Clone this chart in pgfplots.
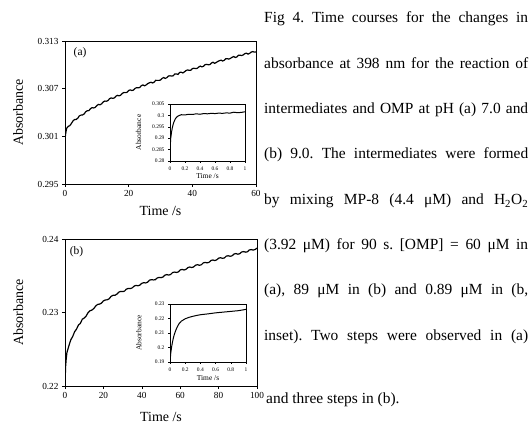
\documentclass[border=0pt]{standalone}
\usepackage{fontspec}
\setmainfont{Liberation Serif}
\usepackage{pgfplots}
\pgfplotsset{compat=1.18}
\frenchspacing

\pgfplotsset{
  kin/.style={
    scale only axis, anchor=south west,
    axis line style={black, line width=0.7pt},
    tick align=outside, xtick pos=left, ytick pos=left,
    major tick length=3bp, tick style={black, line width=0.6pt},
    scaled ticks=false,
    /pgf/number format/assume math mode=true,
    tick label style={font=\fontsize{9.3}{10}\selectfont},
    label style={font=\fontsize{14}{16}\selectfont},
  },
  inset/.style={
    kin, major tick length=2bp,
    axis line style={black, line width=0.6pt},
    tick style={black, line width=0.4pt},
    tick label style={font=\fontsize{5.5}{6}\selectfont},
    label style={font=\fontsize{7.5}{8}\selectfont},
    xmin=0, xmax=1, xtick={0,0.2,...,1},
    xlabel={Time /s}, ylabel={Absorbance},
    xlabel style={at={(axis description cs:0.5,-0.27)}, anchor=center},
    ylabel style={at={(axis description cs:-0.42,0.5)}, anchor=center},
    axis background/.style={fill=white},
  },
}

\newcommand{\capline}[2]{\node[anchor=base west, inner sep=0pt,
  font=\fontsize{15.5}{18}\selectfont] at (264bp,#1) {\makebox[264bp][s]{#2}};}

\begin{document}
\begin{tikzpicture}
\path[use as bounding box] (0,0) rectangle (532bp,427bp);

% (a) pH 7.0
\begin{axis}[kin, at={(65bp,243bp)}, width=191bp, height=143bp,
  xmin=0, xmax=60, xtick={0,20,40,60},
  ymin=0.295, ymax=0.313, ytick={0.295,0.301,0.307,0.313},
  yticklabel style={/pgf/number format/.cd, fixed, fixed zerofill, precision=3},
  xlabel={Time /s}, ylabel={Absorbance},
  xlabel style={at={(axis description cs:0.5,-0.19)}, anchor=center},
  ylabel style={at={(axis description cs:-0.245,0.5)}, anchor=center}]
\addplot[black, line width=1.2pt, mark=none] coordinates {
(0,0.2950) (0.05,0.3008) (0.2,0.3013) (0.5,0.30200)
(1,0.30225) (1.5,0.30234) (2,0.30261) (2.5,0.30294) (3,0.30311) (3.5,0.30312)
(4,0.30328) (4.5,0.30357) (5,0.30367) (5.5,0.30369) (6,0.30381) (6.5,0.30409)
(7,0.30422) (7.5,0.30424) (8,0.30448) (8.5,0.30461) (9,0.30457) (9.5,0.30464)
(10,0.30487) (10.5,0.30502) (11,0.30497) (11.5,0.30509) (12,0.30533) (12.5,0.30544)
(13,0.30542) (13.5,0.30550) (14,0.30574) (14.5,0.30583) (15,0.30578) (15.5,0.30584)
(16,0.30605) (16.5,0.30616) (17,0.30610) (17.5,0.30618) (18,0.30641) (18.5,0.30651)
(19,0.30650) (19.5,0.30654) (20,0.30677) (20.5,0.30684) (21,0.30677) (21.5,0.30682)
(22,0.30703) (22.5,0.30713) (23,0.30710) (23.5,0.30716) (24,0.30738) (24.5,0.30747)
(25,0.30736) (25.5,0.30747) (26,0.30764) (26.5,0.30774) (27,0.30781) (27.5,0.30772)
(28,0.30782) (28.5,0.30805) (29,0.30804) (29.5,0.30804) (30,0.30808) (30.5,0.30829)
(31,0.30840) (31.5,0.30829) (32,0.30839) (32.5,0.30859) (33,0.30862) (33.5,0.30858)
(34,0.30863) (34.5,0.30885) (35,0.30886) (35.5,0.30879) (36,0.30904) (36.5,0.30908)
(37,0.30898) (37.5,0.30911) (38,0.30927) (38.5,0.30936) (39,0.30930) (39.5,0.30932)
(40,0.30952) (40.5,0.30957) (41,0.30953) (41.5,0.30955) (42,0.30972) (42.5,0.30984)
(43,0.30974) (43.5,0.30982) (44,0.31002) (44.5,0.31006) (45,0.31001) (45.5,0.31003)
(46,0.31023) (46.5,0.31033) (47,0.31019) (47.5,0.31029) (48,0.31043) (48.5,0.31052)
(49,0.31059) (49.5,0.31048) (50,0.31056) (50.5,0.31076) (51,0.31078) (51.5,0.31072)
(52,0.31082) (52.5,0.31095) (53,0.31105) (53.5,0.31093) (54,0.31099) (54.5,0.31121)
(55,0.31121) (55.5,0.31117) (56,0.31125) (56.5,0.31141) (57,0.31147) (57.5,0.31135)
(58,0.31144) (58.5,0.31161) (59,0.31167) (59.5,0.31160) (60,0.31161)
};
\node[font=\fontsize{11.5}{12}\selectfont] at (axis description cs:0.079,0.916) {(a)};
\end{axis}

\begin{axis}[inset, at={(170bp,266bp)}, width=75bp, height=57bp,
  ymin=0.28, ymax=0.305, ytick={0.28,0.285,...,0.306},
  yticklabel style={/pgf/number format/precision=3}]
\addplot[black, line width=1pt, mark=none] coordinates {
(0,0.2800) (0.004,0.2870) (0.01,0.2900) (0.02,0.2926) (0.03,0.2944) (0.04,0.2958)
(0.05,0.2969) (0.06,0.2977) (0.07,0.2984) (0.08,0.2989) (0.10,0.2996) (0.12,0.2999)
(0.15,0.3003) (0.20,0.3002) (0.25,0.3005) (0.30,0.3004) (0.35,0.3007) (0.40,0.3005)
(0.45,0.3008) (0.50,0.3007) (0.55,0.3009) (0.60,0.3008) (0.65,0.3010) (0.70,0.3009)
(0.75,0.3011) (0.80,0.3010) (0.85,0.3014) (0.90,0.3012) (0.95,0.3013) (1.00,0.3016)
};
\end{axis}

% (b) pH 9.0
\begin{axis}[kin, at={(65bp,41bp)}, width=192bp, height=147bp,
  xmin=0, xmax=100, xtick={0,20,...,100},
  ymin=0.22, ymax=0.24, ytick={0.22,0.23,0.24},
  yticklabel style={/pgf/number format/.cd, fixed, fixed zerofill, precision=2},
  xlabel={Time /s}, ylabel={Absorbance},
  xlabel style={at={(axis description cs:0.5,-0.21)}, anchor=center},
  ylabel style={at={(axis description cs:-0.243,0.5)}, anchor=center}]
\addplot[black, line width=1.2pt, mark=none] coordinates {
(0,0.2200) (0.3,0.2226) (0.6,0.2236) (1,0.22455) (1.5,0.2250) (2,0.22545)
(3,0.22628) (4,0.22673) (5,0.22738) (6,0.22774) (7,0.22829) (8,0.22852)
(9,0.22908) (10,0.22925) (11,0.22951) (12,0.22998) (13,0.23023) (14,0.23033)
(15,0.23054) (16,0.23089) (17,0.23110) (18,0.23114) (19,0.23128) (20,0.23158)
(21,0.23170) (22,0.23173) (23,0.23187) (24,0.23219) (25,0.23234) (26,0.23234)
(27,0.23249) (28,0.23277) (29,0.23287) (30,0.23284) (31,0.23291) (32,0.23318)
(33,0.23328) (34,0.23325) (35,0.23335) (36,0.23359) (37,0.23369) (38,0.23364)
(39,0.23373) (40,0.23397) (41,0.23406) (42,0.23402) (43,0.23412) (44,0.23440)
(45,0.23447) (46,0.23443) (47,0.23446) (48,0.23469) (49,0.23478) (50,0.23474)
(51,0.23483) (52,0.23507) (53,0.23516) (54,0.23509) (55,0.23517) (56,0.23543)
(57,0.23550) (58,0.23545) (59,0.23552) (60,0.23579) (61,0.23586) (62,0.23578)
(63,0.23587) (64,0.23611) (65,0.23619) (66,0.23612) (67,0.23620) (68,0.23644)
(69,0.23650) (70,0.23643) (71,0.23649) (72,0.23675) (73,0.23681) (74,0.23676)
(75,0.23682) (76,0.23707) (77,0.23715) (78,0.23706) (79,0.23716) (80,0.23739)
(81,0.23745) (82,0.23737) (83,0.23742) (84,0.23767) (85,0.23772) (86,0.23765)
(87,0.23771) (88,0.23795) (89,0.23802) (90,0.23793) (91,0.23800) (92,0.23823)
(93,0.23829) (94,0.23821) (95,0.23826) (96,0.23851) (97,0.23856) (98,0.23849)
(99,0.23857) (100,0.23876)
};
\node[font=\fontsize{11.5}{12}\selectfont] at (axis description cs:0.06,0.91) {(b)};
\end{axis}

\begin{axis}[inset, at={(170bp,65bp)}, width=76bp, height=58bp,
  ymin=0.19, ymax=0.23, ytick={0.19,0.2,0.21,0.22,0.23},
  yticklabel style={/pgf/number format/precision=2},
  ylabel style={at={(axis description cs:-0.41,0.5)}, anchor=center},
  xlabel style={at={(axis description cs:0.5,-0.28)}, anchor=center}]
\addplot[black, line width=1pt, mark=none] coordinates {
(0,0.1900) (0.01,0.1960) (0.02,0.2000) (0.03,0.2030) (0.04,0.2056) (0.05,0.2077)
(0.06,0.2095) (0.08,0.2124) (0.10,0.2147) (0.12,0.2165) (0.15,0.2182) (0.20,0.2198)
(0.25,0.2208) (0.30,0.2215) (0.35,0.2221) (0.40,0.2226) (0.50,0.2232) (0.60,0.2239)
(0.70,0.2244) (0.80,0.2249) (0.90,0.2254) (1.00,0.2263)
};
\end{axis}

% caption
\capline{404bp}{Fig 4. Time courses for the changes in}
\capline{358bp}{absorbance at 398 nm for the reaction of}
\capline{313bp}{intermediates and OMP at pH (a) 7.0 and}
\capline{268bp}{(b) 9.0. The intermediates were formed}
\capline{222bp}{by mixing MP-8 (4.4 μM) and H\textsubscript{2}O\textsubscript{2}}
\capline{177bp}{(3.92 μM) for 90 s. [OMP] = 60 μM in}
\capline{132bp}{(a), 89 μM in (b) and 0.89 μM in (b,}
\capline{86bp}{inset). Two steps were observed in (a)}
\node[anchor=base west, inner sep=0pt, font=\fontsize{15.5}{18}\selectfont]
  at (266bp,24bp) {and three steps in (b).};
\end{tikzpicture}
\end{document}
